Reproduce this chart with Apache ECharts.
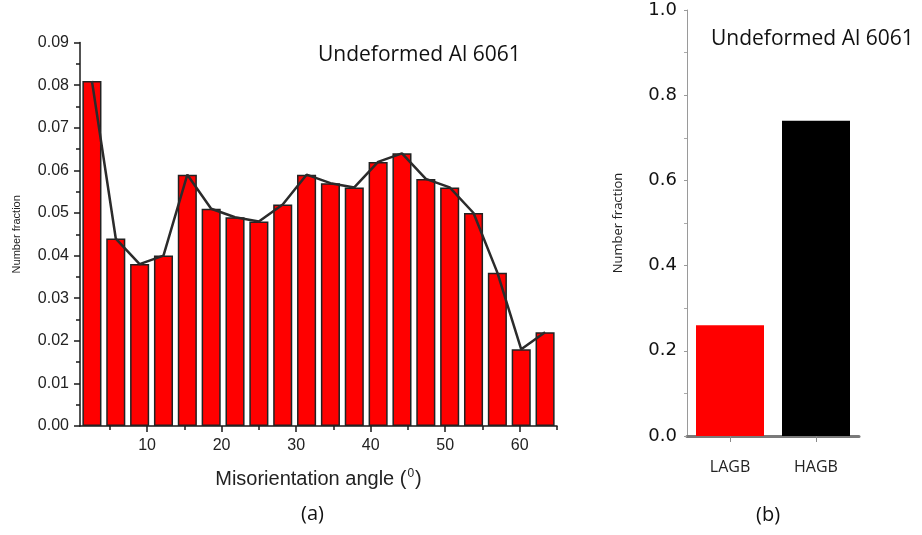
<!DOCTYPE html>
<html>
<head>
<meta charset="utf-8">
<script src="https://cdn.jsdelivr.net/npm/echarts@6/dist/echarts.min.js"></script>
<style>
  html, body { margin: 0; padding: 0; background: #fff; }
  #chart { width: 922px; height: 535px; }
</style>
</head>
<body>
<div id="chart"></div>
<script>
// (a) misorientation angle distribution, 20 bins between 1 and 65 degrees
const binCenters = ['2.6', '5.8', '9.0', '12.2', '15.4', '18.6', '21.8', '25.0', '28.2', '31.4',
                    '34.6', '37.8', '41.0', '44.2', '47.4', '50.6', '53.8', '57.0', '60.2', '63.4'];
const binFractions = [0.081, 0.044, 0.038, 0.040, 0.059, 0.051, 0.049, 0.048, 0.052, 0.059,
                      0.057, 0.056, 0.062, 0.064, 0.058, 0.056, 0.050, 0.036, 0.018, 0.022];
const angleTickLabels = [10, 20, 30, 40, 50, 60];
const angleMinorTicks = [5, 15, 25, 35, 45, 55, 65];

// (b) low- and high-angle grain boundary fractions
const boundaryTypes = ['LAGB', 'HAGB'];
const boundaryFractions = [0.26, 0.74];
const boundaryColors = ['#ff0000', '#000000'];

const sampleTitle = 'Undeformed Al 6061';

const chart = echarts.init(document.getElementById('chart'), null, { renderer: 'canvas' });

const sans = 'Liberation Sans, Arial, sans-serif';
const soft = 'Open Sans, sans-serif';

chart.setOption({
  animation: false,
  backgroundColor: '#ffffff',
  grid: [
    { left: 80, top: 42.6, width: 477, height: 383.4 },
    { left: 687, top: 10, width: 172, height: 426 }
  ],
  xAxis: [
    {
      type: 'category', gridIndex: 0, data: binCenters, show: false,
      boundaryGap: true
    },
    {
      type: 'value', gridIndex: 0, min: 1, max: 65,
      position: 'bottom',
      splitLine: { show: false },
      axisLine: { show: true, lineStyle: { color: '#1a1a1a', width: 1.5 } },
      axisTick: { show: true, customValues: angleTickLabels, length: 6, inside: false,
                  lineStyle: { color: '#1a1a1a', width: 1.5 } },
      axisLabel: { customValues: angleTickLabels, margin: 12, color: '#222',
                   fontFamily: sans, fontSize: 16 },
      name: 'Misorientation angle ({sup|0})',
      nameLocation: 'middle',
      nameGap: 42,
      nameTextStyle: {
        fontFamily: sans, fontSize: 20, color: '#222',
        rich: { sup: { fontFamily: sans, fontSize: 12, color: '#222', padding: [0, 1, 10, 1] } }
      }
    },
    {
      type: 'value', gridIndex: 0, min: 1, max: 65,
      position: 'bottom',
      splitLine: { show: false },
      axisLine: { show: false },
      axisTick: { show: true, customValues: angleMinorTicks, length: 4,
                  lineStyle: { color: '#1a1a1a', width: 1.5 } },
      axisLabel: { show: false }
    },
    {
      type: 'category', gridIndex: 1, data: boundaryTypes,
      axisLine: { show: true, lineStyle: { color: '#7a7a7a', width: 3 } },
      axisTick: { show: true, alignWithLabel: true, length: 6,
                  lineStyle: { color: '#8a8a8a', width: 1 } },
      axisLabel: { margin: 23, color: '#222', fontFamily: soft, fontSize: 16 }
    }
  ],
  yAxis: [
    {
      type: 'value', gridIndex: 0, min: 0, max: 0.09, interval: 0.01,
      splitLine: { show: false },
      axisLine: { show: true, lineStyle: { color: '#1a1a1a', width: 1.5 } },
      axisTick: { show: true, length: 6, lineStyle: { color: '#1a1a1a', width: 1.5 } },
      minorTick: { show: true, splitNumber: 2, length: 4, lineStyle: { color: '#1a1a1a', width: 1.5 } },
      axisLabel: { margin: 11, color: '#222', fontFamily: sans, fontSize: 16,
                   formatter: v => v.toFixed(2) },
      name: 'Number fraction',
      nameLocation: 'middle',
      nameGap: 58,
      nameTextStyle: { fontFamily: sans, fontSize: 11, color: '#222' }
    },
    {
      type: 'value', gridIndex: 1, min: 0, max: 1, interval: 0.2,
      splitLine: { show: false },
      axisLine: { show: true, lineStyle: { color: '#9a9a9a', width: 1 } },
      axisTick: { show: true, length: 3, lineStyle: { color: '#9a9a9a', width: 1 } },
      minorTick: { show: true, splitNumber: 2, length: 3, lineStyle: { color: '#aaaaaa', width: 1 } },
      axisLabel: { margin: 10, color: '#111', fontFamily: 'DejaVu Sans, sans-serif', fontSize: 18,
                   formatter: v => v.toFixed(1) },
      name: 'Number fraction',
      nameLocation: 'middle',
      nameGap: 62,
      nameTextStyle: { fontFamily: soft, fontSize: 13, color: '#222' }
    }
  ],
  series: [
    {
      type: 'bar', xAxisIndex: 0, yAxisIndex: 0,
      data: binFractions,
      barCategoryGap: '20%',
      itemStyle: { color: '#ff0000', borderColor: '#222', borderWidth: 1.5 },
      z: 2
    },
    {
      type: 'line', xAxisIndex: 0, yAxisIndex: 0,
      data: binFractions,
      symbol: 'none',
      lineStyle: { color: '#2b2b2b', width: 2.5 },
      z: 3
    },
    {
      type: 'bar', xAxisIndex: 3, yAxisIndex: 1,
      data: boundaryFractions.map((v, i) => ({ value: v, itemStyle: { color: boundaryColors[i] } })),
      barWidth: 68,
      z: 2
    }
  ],
  graphic: [
    { type: 'text', left: 318, top: 45,
      style: { text: sampleTitle, fontFamily: soft, fontSize: 21, fill: '#111' } },
    { type: 'text', left: 711, top: 29,
      style: { text: sampleTitle, fontFamily: soft, fontSize: 21, fill: '#111' } },
    { type: 'text', left: 301, top: 504,
      style: { text: '(a)', fontFamily: soft, fontSize: 20, fill: '#111' } },
    { type: 'text', left: 756, top: 505,
      style: { text: '(b)', fontFamily: soft, fontSize: 20, fill: '#111' } }
  ]
});
</script>
</body>
</html>
